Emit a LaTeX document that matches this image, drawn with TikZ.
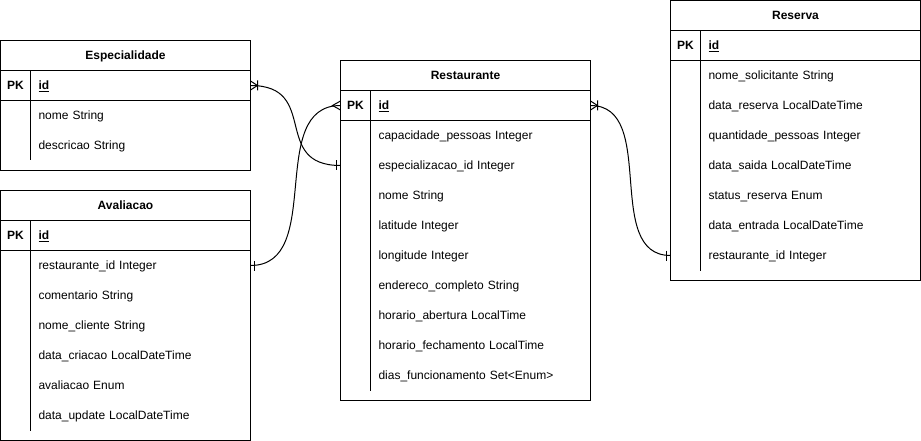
\documentclass[tikz,border=0pt]{standalone}
\usepackage{fontspec}
\setmainfont{Liberation Sans}
\usetikzlibrary{positioning, arrows.meta}

% Pontas de pe de galinha
\pgfdeclarearrow{
  name = onebar,
  setup code = {
    \pgfarrowssettipend{0pt}
    \pgfarrowssetlineend{0pt}
    \pgfarrowssetbackend{-5pt}
    \pgfarrowssetvisualbackend{-5pt}
  },
  drawing code = {
    \pgfpathmoveto{\pgfqpoint{-4pt}{5pt}}
    \pgfpathlineto{\pgfqpoint{-4pt}{-5pt}}
    \pgfusepathqstroke
  }
}
\pgfdeclarearrow{
  name = crowone,
  setup code = {
    \pgfarrowssettipend{0pt}
    \pgfarrowssetlineend{0pt}
    \pgfarrowssetbackend{-8pt}
    \pgfarrowssetvisualbackend{-8pt}
  },
  drawing code = {
    \pgfpathmoveto{\pgfqpoint{0pt}{4.5pt}}
    \pgfpathlineto{\pgfqpoint{-7pt}{0pt}}
    \pgfpathlineto{\pgfqpoint{0pt}{-4.5pt}}
    \pgfpathmoveto{\pgfqpoint{-7pt}{5pt}}
    \pgfpathlineto{\pgfqpoint{-7pt}{-5pt}}
    \pgfusepathqstroke
  }
}
\pgfdeclarearrow{
  name = crowmany,
  setup code = {
    \pgfarrowssettipend{0pt}
    \pgfarrowssetlineend{0pt}
    \pgfarrowssetbackend{-8pt}
    \pgfarrowssetvisualbackend{-8pt}
  },
  drawing code = {
    \pgfpathmoveto{\pgfqpoint{0pt}{4.5pt}}
    \pgfpathlineto{\pgfqpoint{-8pt}{0pt}}
    \pgfpathlineto{\pgfqpoint{0pt}{-4.5pt}}
    \pgfusepathqstroke
  }
}

\begin{document}
\begin{tikzpicture}[x=1pt, y=-1pt, line width=1pt,
    every node/.style={font=\fontsize{12pt}{14pt}\selectfont, outer sep=0pt, text height=8pt, text depth=0pt},
    tablebox/.style={draw, minimum width=250pt, inner sep=0pt, anchor=north west},
    titlerow/.style={minimum width=250pt, minimum height=30pt, inner sep=0pt, anchor=north west, font=\fontsize{12pt}{14pt}\selectfont\bfseries},
    pkcell/.style={minimum width=30pt, minimum height=30pt, inner sep=0pt, font=\fontsize{12pt}{14pt}\selectfont\bfseries},
    attr/.style={minimum height=30pt, text width=204pt, inner xsep=8pt, inner ysep=0pt, align=left}]
    \useasboundingbox (-0.5,-0.5) rectangle (920.5,440.5);

    % Especialidade
    \node[tablebox, minimum height=130pt] (esp) at (0,40) {};
    \node[titlerow] (esp-title) at (esp.north west) {Especialidade};
    \node[pkcell, below right=0pt of esp-title.south west] (esp-pk) {PK};
    \node[attr, right=0pt of esp-pk] (esp-id) {\underline{\textbf{id}}};
    \node[attr, below=0pt of esp-id] (esp-nome) {nome String};
    \node[attr, below=0pt of esp-nome] (esp-desc) {descricao String};
    \draw (esp-title.south west) -- (esp-title.south east);
    \draw (esp-pk.south west) -- (esp-id.south east);
    \draw (esp-pk.north east) -- (esp-pk.east |- esp-desc.south);

    % Avaliacao
    \node[tablebox, minimum height=250pt] (av) at (0,190) {};
    \node[titlerow] (av-title) at (av.north west) {Avaliacao};
    \node[pkcell, below right=0pt of av-title.south west] (av-pk) {PK};
    \node[attr, right=0pt of av-pk] (av-id) {\underline{\textbf{id}}};
    \node[attr, below=0pt of av-id] (av-rest) {restaurante\_id Integer};
    \node[attr, below=0pt of av-rest] (av-com) {comentario String};
    \node[attr, below=0pt of av-com] (av-cli) {nome\_cliente String};
    \node[attr, below=0pt of av-cli] (av-cri) {data\_criacao LocalDateTime};
    \node[attr, below=0pt of av-cri] (av-nota) {avaliacao Enum};
    \node[attr, below=0pt of av-nota] (av-upd) {data\_update LocalDateTime};
    \draw (av-title.south west) -- (av-title.south east);
    \draw (av-pk.south west) -- (av-id.south east);
    \draw (av-pk.north east) -- (av-pk.east |- av-upd.south);

    % Restaurante
    \node[tablebox, minimum height=340pt] (rest) at (340,60) {};
    \node[titlerow] (rest-title) at (rest.north west) {Restaurante};
    \node[pkcell, below right=0pt of rest-title.south west] (rest-pk) {PK};
    \node[attr, right=0pt of rest-pk] (rest-id) {\underline{\textbf{id}}};
    \node[attr, below=0pt of rest-id] (rest-cap) {capacidade\_pessoas Integer};
    \node[attr, below=0pt of rest-cap] (rest-esp) {especializacao\_id Integer};
    \node[attr, below=0pt of rest-esp] (rest-nome) {nome String};
    \node[attr, below=0pt of rest-nome] (rest-lat) {latitude Integer};
    \node[attr, below=0pt of rest-lat] (rest-lon) {longitude Integer};
    \node[attr, below=0pt of rest-lon] (rest-end) {endereco\_completo String};
    \node[attr, below=0pt of rest-end] (rest-abre) {horario\_abertura LocalTime};
    \node[attr, below=0pt of rest-abre] (rest-fecha) {horario\_fechamento LocalTime};
    \node[attr, below=0pt of rest-fecha] (rest-dias) {dias\_funcionamento Set<Enum>};
    \draw (rest-title.south west) -- (rest-title.south east);
    \draw (rest-pk.south west) -- (rest-id.south east);
    \draw (rest-pk.north east) -- (rest-pk.east |- rest-dias.south);

    % Reserva
    \node[tablebox, minimum height=280pt] (res) at (670,0) {};
    \node[titlerow] (res-title) at (res.north west) {Reserva};
    \node[pkcell, below right=0pt of res-title.south west] (res-pk) {PK};
    \node[attr, right=0pt of res-pk] (res-id) {\underline{\textbf{id}}};
    \node[attr, below=0pt of res-id] (res-sol) {nome\_solicitante String};
    \node[attr, below=0pt of res-sol] (res-data) {data\_reserva LocalDateTime};
    \node[attr, below=0pt of res-data] (res-qtd) {quantidade\_pessoas Integer};
    \node[attr, below=0pt of res-qtd] (res-saida) {data\_saida LocalDateTime};
    \node[attr, below=0pt of res-saida] (res-status) {status\_reserva Enum};
    \node[attr, below=0pt of res-status] (res-entrada) {data\_entrada LocalDateTime};
    \node[attr, below=0pt of res-entrada] (res-rest) {restaurante\_id Integer};
    \draw (res-title.south west) -- (res-title.south east);
    \draw (res-pk.south west) -- (res-id.south east);
    \draw (res-pk.north east) -- (res-pk.east |- res-rest.south);

    % Relacionamentos
    \draw[crowone-onebar] (esp-id.east) .. controls +(70,0) and +(-70,0) .. (rest.west |- rest-esp);
    \draw[onebar-crowmany] (av-rest.east) .. controls +(75,0) and +(-75,0) .. (rest-pk.west);
    \draw[crowone-onebar] (rest-id.east) .. controls +(68,0) and +(-68,0) .. (res.west |- res-rest);
\end{tikzpicture}
\end{document}
